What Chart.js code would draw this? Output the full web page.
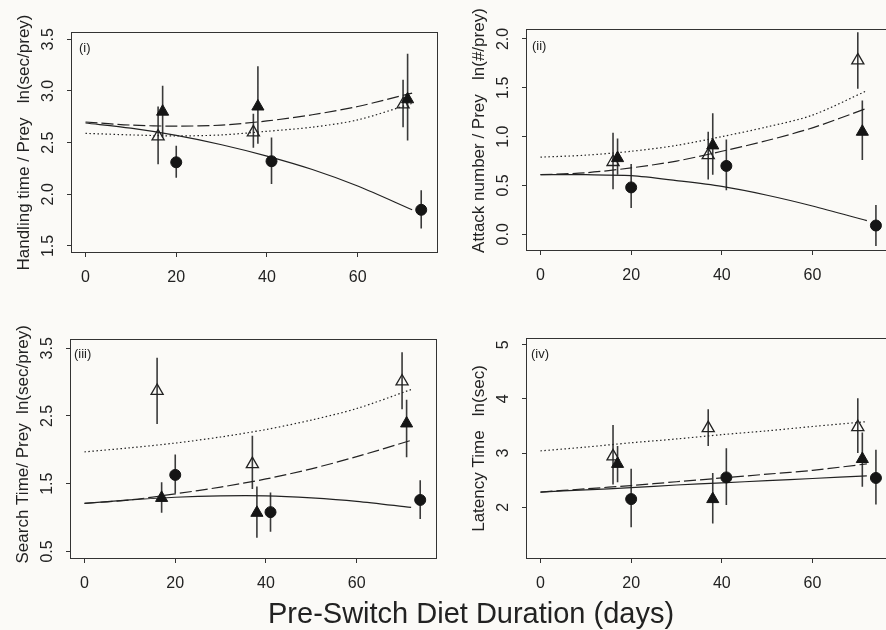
<!DOCTYPE html>
<html>
<head>
<meta charset="utf-8">
<script src="https://cdn.jsdelivr.net/npm/chart.js@4.4.1/dist/chart.umd.min.js"></script>
<style>
html, body { margin:0; padding:0; background:#fbfaf7; width:886px; height:630px; overflow:hidden; position:relative;
  font-family:"Liberation Sans", Arial, sans-serif; color:#222; }
canvas { position:absolute; }
.lab { position:absolute; font-size:13px; line-height:13px; color:#222; white-space:nowrap; }
#title { position:absolute; left:268px; top:599px; font-size:29px; line-height:29px; white-space:nowrap; color:#222; }
</style>
</head>
<body>
<canvas id="c1" width="444" height="300" style="left:6px;top:0px"></canvas>
<canvas id="c2" width="440" height="300" style="left:461px;top:0px"></canvas>
<canvas id="c3" width="444" height="300" style="left:5px;top:310px"></canvas>
<canvas id="c4" width="440" height="300" style="left:461px;top:310px"></canvas>
<div class="lab" style="left:79px;top:41px">(i)</div>
<div class="lab" style="left:532px;top:39px">(ii)</div>
<div class="lab" style="left:74px;top:347px">(iii)</div>
<div class="lab" style="left:531px;top:347px">(iv)</div>
<div id="title">Pre-Switch Diet Duration (days)</div>
<script>
// ---------- shared x data ----------
const xTicks = [0, 20, 40, 60];
const curveX = [0, 10, 20, 30, 40, 50, 60, 72];
const circX = [20, 41, 74];   // filled circles
const fTriX = [17, 38, 71];   // filled triangles
const oTriX = [16, 37, 70];   // open triangles

// ---------- panel (i) Handling time ----------
const yTicks1 = [1.5, 2.0, 2.5, 3.0, 3.5];
const p1CircY = [2.31, 2.32, 1.85], p1CircLo = [2.16, 2.10, 1.67], p1CircHi = [2.47, 2.55, 2.04];
const p1FTriY = [2.80, 2.85, 2.92], p1FTriLo = [2.55, 2.49, 2.52], p1FTriHi = [3.05, 3.24, 3.36];
const p1OTriY = [2.56, 2.60, 2.87], p1OTriLo = [2.29, 2.45, 2.65], p1OTriHi = [2.85, 2.78, 3.11];
const p1Solid  = [2.69, 2.64, 2.57, 2.48, 2.37, 2.24, 2.08, 1.85];
const p1Dashed = [2.70, 2.67, 2.66, 2.67, 2.71, 2.77, 2.85, 2.98];
const p1Dotted = [2.59, 2.575, 2.565, 2.575, 2.61, 2.65, 2.72, 2.88];

// ---------- panel (ii) Attack number ----------
const yTicks2 = [0.0, 0.5, 1.0, 1.5, 2.0];
const p2CircY = [0.48, 0.70, 0.09], p2CircLo = [0.27, 0.45, -0.12], p2CircHi = [0.72, 0.97, 0.30];
const p2FTriY = [0.78, 0.91, 1.05], p2FTriLo = [0.61, 0.61, 0.76], p2FTriHi = [0.98, 1.24, 1.37];
const p2OTriY = [0.74, 0.81, 1.78], p2OTriLo = [0.46, 0.56, 1.49], p2OTriHi = [1.04, 1.05, 2.07];
const p2Solid  = [0.61, 0.61, 0.60, 0.55, 0.49, 0.40, 0.29, 0.14];
const p2Dashed = [0.61, 0.63, 0.68, 0.75, 0.85, 0.96, 1.09, 1.29];
const p2Dotted = [0.79, 0.81, 0.85, 0.91, 1.00, 1.10, 1.22, 1.47];

// ---------- panel (iii) Search time ----------
const yTicks3 = [0.5, 1.5, 2.5, 3.5];
const p3CircY = [1.63, 1.08, 1.26], p3CircLo = [1.36, 0.79, 0.98], p3CircHi = [1.93, 1.37, 1.55];
const p3FTriY = [1.29, 1.07, 2.39], p3FTriLo = [1.07, 0.70, 1.89], p3FTriHi = [1.52, 1.46, 2.74];
const p3OTriY = [2.87, 1.79, 3.01], p3OTriLo = [2.38, 1.42, 2.60], p3OTriHi = [3.36, 2.21, 3.44];
const p3Solid  = [1.21, 1.26, 1.30, 1.32, 1.32, 1.29, 1.24, 1.15];
const p3Dashed = [1.21, 1.26, 1.35, 1.45, 1.57, 1.72, 1.90, 2.14];
const p3Dotted = [1.97, 2.03, 2.10, 2.19, 2.30, 2.44, 2.61, 2.89];

// ---------- panel (iv) Latency time ----------
const yTicks4 = [2, 3, 4, 5];
const p4CircY = [2.15, 2.55, 2.54], p4CircLo = [1.63, 2.04, 2.05], p4CircHi = [2.71, 3.09, 3.06];
const p4FTriY = [2.80, 2.15, 2.89], p4FTriLo = [2.46, 1.70, 2.38], p4FTriHi = [3.13, 2.63, 3.38];
const p4OTriY = [2.94, 3.46, 3.48], p4OTriLo = [2.42, 3.13, 3.00], p4OTriHi = [3.52, 3.81, 4.01];
const p4Solid  = [2.28, 2.32, 2.36, 2.41, 2.45, 2.49, 2.53, 2.58];
const p4Dashed = [2.28, 2.34, 2.40, 2.47, 2.54, 2.61, 2.68, 2.80];
const p4Dotted = [3.04, 3.11, 3.19, 3.26, 3.34, 3.41, 3.49, 3.58];

// ---------- styling ----------
const INK = '#222';
const FONT = '"Liberation Sans", Arial, sans-serif';
const X_MIN = -3.2, X_MAX = 77.7;

const framePlugin = {
  id: 'frame',
  afterDatasetsDraw(chart) {
    const {ctx, chartArea: a} = chart;
    ctx.save();
    ctx.strokeStyle = '#333';
    ctx.lineWidth = 1;
    ctx.strokeRect(Math.round(a.left) + 0.5, Math.round(a.top) + 0.5,
                   Math.round(a.right - a.left) - 1, Math.round(a.bottom - a.top) - 1);
    ctx.restore();
  }
};

const measureCtx = document.createElement('canvas').getContext('2d');
measureCtx.font = '16px ' + FONT;

function pts(xs, ys) { return xs.map((x, i) => ({x: x, y: ys[i]})); }
function errSegs(xs, lo, hi) {
  const out = [];
  xs.forEach((x, i) => { out.push({x: x, y: lo[i]}, {x: x, y: hi[i]}, {x: x, y: null}); });
  return out;
}

function makePanel(id, cfg) {
  const fmt = cfg.fmt;
  const widest = Math.max(...cfg.yTicks.map(v => measureCtx.measureText(fmt(v)).width));
  const yPad = 18 - widest / 2;
  const errStyle = {showLine: true, pointRadius: 0, borderColor: '#3a3a3a', borderWidth: 1.6, spanGaps: false, order: 10};
  const curveStyle = {showLine: true, pointRadius: 0, borderColor: INK, borderWidth: 1.2, tension: 0.3, order: 5, fill: false};
  new Chart(document.getElementById(id), {
    type: 'scatter',
    data: {
      datasets: [
        Object.assign({label: 'err circ', data: errSegs(circX, cfg.circLo, cfg.circHi)}, errStyle),
        Object.assign({label: 'err ftri', data: errSegs(fTriX, cfg.fTriLo, cfg.fTriHi)}, errStyle),
        Object.assign({label: 'err otri', data: errSegs(oTriX, cfg.oTriLo, cfg.oTriHi)}, errStyle),
        Object.assign({label: 'solid fit', data: pts(curveX, cfg.solid), borderDash: []}, curveStyle),
        Object.assign({label: 'dashed fit', data: pts(curveX, cfg.dashed), borderDash: [12, 4]}, curveStyle),
        Object.assign({label: 'dotted fit', data: pts(curveX, cfg.dotted), borderDash: [1.5, 2.5]}, curveStyle),
        {label: 'open triangles', data: pts(oTriX, cfg.oTriY), pointStyle: 'triangle', pointRadius: 7,
         backgroundColor: 'rgba(0,0,0,0)', borderColor: INK, borderWidth: 1.3, order: 1},
        {label: 'filled triangles', data: pts(fTriX, cfg.fTriY), pointStyle: 'triangle', pointRadius: 7,
         backgroundColor: '#151515', borderColor: '#151515', borderWidth: 1, order: 0},
        {label: 'filled circles', data: pts(circX, cfg.circY), pointStyle: 'circle', pointRadius: 5.5,
         backgroundColor: '#151515', borderColor: '#151515', borderWidth: 1, order: 0}
      ]
    },
    options: {
      responsive: false,
      animation: false,
      events: [],
      layout: {padding: {left: 0, top: cfg.padTop, right: cfg.padRight, bottom: 0}},
      plugins: {legend: {display: false}, tooltip: {enabled: false}},
      scales: {
        x: {
          type: 'linear', min: X_MIN, max: X_MAX,
          afterBuildTicks: s => { s.ticks = xTicks.map(v => ({value: v})); },
          afterFit: s => { s.height = cfg.xAxisH; },
          ticks: {font: {family: FONT, size: 16}, color: INK, padding: 11, autoSkip: false,
                  maxRotation: 0, minRotation: 0, callback: v => String(v)},
          grid: {display: true, drawOnChartArea: false, drawTicks: true, tickLength: 4, tickColor: '#333', lineWidth: 1},
          border: {display: false}
        },
        y: {
          type: 'linear', min: cfg.yMin, max: cfg.yMax,
          afterBuildTicks: s => { s.ticks = cfg.yTicks.map(v => ({value: v})); },
          afterFit: s => { s.width = 65; },
          ticks: {font: {family: FONT, size: 16}, color: INK, padding: yPad, autoSkip: false,
                  minRotation: 90, maxRotation: 90, crossAlign: 'center', callback: v => fmt(v)},
          grid: {display: true, drawOnChartArea: false, drawTicks: true, tickLength: 4, tickColor: '#333', lineWidth: 1},
          border: {display: false},
          title: {display: true, text: cfg.yTitle, color: INK, font: {family: FONT, size: 17},
                  padding: {top: 8, bottom: 0}}
        }
      }
    },
    plugins: [framePlugin]
  });
}

const f1 = v => v.toFixed(1);
const f0 = v => String(v);

makePanel('c1', {yTicks: yTicks1, fmt: f1, yMin: 1.432, yMax: 3.571, padTop: 32, padRight: 12, xAxisH: 47,
  yTitle: 'Handling time / Prey   ln(sec/prey)',
  circY: p1CircY, circLo: p1CircLo, circHi: p1CircHi, fTriY: p1FTriY, fTriLo: p1FTriLo, fTriHi: p1FTriHi,
  oTriY: p1OTriY, oTriLo: p1OTriLo, oTriHi: p1OTriHi, solid: p1Solid, dashed: p1Dashed, dotted: p1Dotted});

makePanel('c2', {yTicks: yTicks2, fmt: f1, yMin: -0.171, yMax: 2.102, padTop: 29, padRight: 8, xAxisH: 49,
  yTitle: '    Attack number / Prey   ln(#/prey)',
  circY: p2CircY, circLo: p2CircLo, circHi: p2CircHi, fTriY: p2FTriY, fTriLo: p2FTriLo, fTriHi: p2FTriHi,
  oTriY: p2OTriY, oTriLo: p2OTriLo, oTriHi: p2OTriHi, solid: p2Solid, dashed: p2Dashed, dotted: p2Dotted});

makePanel('c3', {yTicks: yTicks3, fmt: f1, yMin: 0.388, yMax: 3.637, padTop: 29, padRight: 12, xAxisH: 51,
  yTitle: '  Search Time/ Prey  ln(sec/prey)',
  circY: p3CircY, circLo: p3CircLo, circHi: p3CircHi, fTriY: p3FTriY, fTriLo: p3FTriLo, fTriHi: p3FTriHi,
  oTriY: p3OTriY, oTriLo: p3OTriLo, oTriHi: p3OTriHi, solid: p3Solid, dashed: p3Dashed, dotted: p3Dotted});

makePanel('c4', {yTicks: yTicks4, fmt: f0, yMin: 1.044, yMax: 5.124, padTop: 28, padRight: 8, xAxisH: 51,
  yTitle: 'Latency Time   ln(sec)',
  circY: p4CircY, circLo: p4CircLo, circHi: p4CircHi, fTriY: p4FTriY, fTriLo: p4FTriLo, fTriHi: p4FTriHi,
  oTriY: p4OTriY, oTriLo: p4OTriLo, oTriHi: p4OTriHi, solid: p4Solid, dashed: p4Dashed, dotted: p4Dotted});
</script>
</body>
</html>
